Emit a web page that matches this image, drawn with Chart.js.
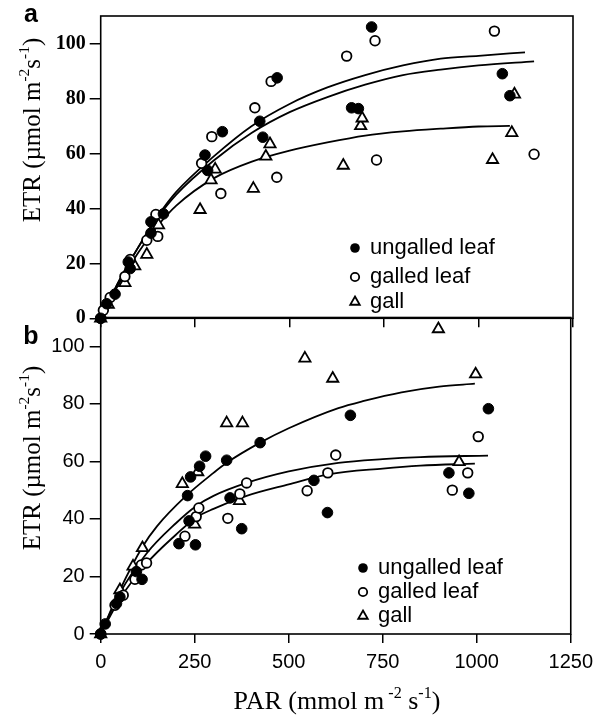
<!DOCTYPE html>
<html>
<head>
<meta charset="utf-8">
<script src="https://cdn.jsdelivr.net/npm/chart.js@4"></script>
<style>
  html, body { margin: 0; padding: 0; background: #fff; }
  #wrap { position: relative; width: 600px; height: 718px; }
  canvas { position: absolute; left: 0; }
  #chartA { top: 0; }
  #chartB { top: 300px; }
</style>
</head>
<body>
<div id="wrap">
  <canvas id="chartA" width="600" height="340"></canvas>
  <canvas id="chartB" width="600" height="418"></canvas>
</div>
<script>
// tick values
let parTicks = [0, 250, 500, 750, 1000, 1250];
let etrTicks = [0, 20, 40, 60, 80, 100];
let seriesNames = ["ungalled leaf", "galled leaf", "gall"];

// panel a - measured points (PAR, ETR)
let aUngalledPar = [0, 16, 38, 73, 78, 133, 133, 166, 276, 283, 322, 421, 429, 467, 664, 682, 717, 1063, 1083];
let aUngalledEtr = [0, 5.3, 8.8, 20.5, 18.1, 35.1, 31, 38, 59.4, 53.8, 67.9, 71.7, 65.9, 87.5, 76.6, 76.3, 106, 89, 81];
let aGalledPar = [0, 7, 25, 64, 78, 122, 146, 151, 267, 294, 318, 408, 451, 466, 651, 726, 730, 1042, 1147];
let aGalledEtr = [0, 2.9, 7.6, 15.2, 21.4, 28.4, 37.8, 29.8, 56.4, 66.1, 45.4, 76.6, 86.2, 51.3, 95.4, 101, 57.6, 104.5, 59.7];
let aGallPar = [0, 20, 64, 90, 122, 153, 263, 292, 303, 404, 437, 448, 642, 688, 692, 1037, 1088, 1095];
let aGallEtr = [0, 5, 12.9, 19, 23.2, 33.9, 39.5, 50.3, 54.2, 47.2, 58.9, 63.4, 55.6, 70, 72.8, 57.7, 67.5, 81.5];

// panel a - fitted curves
let aFit1Par = [0, 50, 100, 150, 200, 300, 400, 500, 600, 700, 800, 900, 1000, 1123];
let aFit1Etr = [0, 14, 26, 37, 46, 59, 70, 78, 84, 88.5, 92, 94.5, 95.5, 96.8];
let aFit2Par = [0, 50, 100, 150, 200, 300, 400, 500, 600, 700, 800, 900, 1000, 1147];
let aFit2Etr = [0, 14, 26, 36.5, 45, 57.5, 67.5, 75, 80.5, 85, 88.5, 90.5, 92, 93.5];
let aFit3Par = [0, 50, 100, 150, 200, 300, 400, 500, 600, 700, 800, 900, 1000, 1083];
let aFit3Etr = [0, 13, 24, 33.5, 41, 51, 57, 61, 64, 66.5, 68, 69, 69.8, 70];

// panel b - measured points
let bUngalledPar = [0, 12, 42, 51, 95, 110, 208, 231, 235, 239, 252, 263, 279, 335, 344, 375, 424, 567, 603, 664, 926, 979, 1031];
let bUngalledEtr = [0, 3.5, 10.6, 12.9, 21.7, 19, 31.4, 48.1, 39.3, 54.6, 31, 58.3, 61.8, 60.4, 47.3, 36.6, 66.5, 53.4, 42.2, 76, 56, 48.9, 78.3];
let bGalledPar = [0, 38, 60, 91, 108, 122, 224, 254, 261, 338, 370, 388, 549, 604, 625, 935, 976, 1004];
let bGalledEtr = [0, 10, 13.5, 19, 24, 24.7, 34, 40.8, 43.8, 40.2, 48.7, 52.5, 49.8, 56, 62.2, 50, 56, 68.6];
let bGallPar = [0, 51, 86, 111, 217, 250, 258, 335, 369, 377, 543, 617, 898, 953, 997];
let bGallEtr = [0, 15.3, 23.5, 29.9, 52.2, 38.1, 56.3, 73.3, 46.3, 73.3, 95.8, 88.8, 106, 59.8, 90.3];

// panel b - fitted curves
let bFit1Par = [0, 50, 112, 150, 227, 300, 335, 424, 500, 632, 700, 800, 900, 995];
let bFit1Etr = [0, 15, 30.5, 37.5, 48, 56, 59.5, 66.5, 71.5, 78.5, 81, 84, 86, 87];
let bFit2Par = [0, 50, 122, 200, 254, 300, 388, 500, 632, 750, 850, 1030];
let bFit2Etr = [0, 14, 28, 38.5, 44.5, 48, 52.5, 56.5, 59.5, 60.8, 61.5, 62];
let bFit3Par = [0, 50, 122, 200, 254, 300, 388, 500, 606, 750, 850, 995];
let bFit3Etr = [0, 12, 24.5, 34.5, 40.5, 43.5, 48, 52, 55.5, 57.5, 58.5, 59.2];

// zip two arrays into {x, y} points
function toPoints(xs, ys) {
  return xs.map(function (x, i) { return { x: x, y: ys[i] }; });
}

let sans = "'Liberation Sans', Arial, sans-serif";
let serif = "'Liberation Serif', 'Times New Roman', serif";

function pointSet(label, xs, ys, kind) {
  let filled = kind === "filled";
  return {
    label: label,
    data: toPoints(xs, ys),
    showLine: false,
    pointStyle: kind === "tri" ? "triangle" : "circle",
    pointRadius: kind === "tri" ? 6.5 : (filled ? 5.3 : 4.8),
    pointBackgroundColor: filled ? "#000" : "#fff",
    pointBorderColor: "#000",
    pointBorderWidth: filled ? 1 : 1.8,
    clip: false,
    order: 1,
  };
}

function curveSet(label, xs, ys) {
  return {
    label: label,
    data: toPoints(xs, ys),
    borderColor: "#000",
    borderWidth: 1.8,
    pointRadius: 0,
    fill: false,
    cubicInterpolationMode: "monotone",
    order: 2,
  };
}

// draw text with superscripts, centered on (0,0) of the current transform
function richText(ctx, parts, size, family) {
  let total = 0;
  parts.forEach(function (p) {
    ctx.font = (p.sup ? size * 0.62 : size) + "px " + family;
    p.w = ctx.measureText(p.t).width;
    total += p.w;
  });
  let x = -total / 2;
  ctx.textAlign = "left";
  ctx.textBaseline = "alphabetic";
  parts.forEach(function (p) {
    ctx.font = (p.sup ? size * 0.62 : size) + "px " + family;
    ctx.fillText(p.t, x, p.sup ? size * 0.35 - size * 0.42 : size * 0.35);
    x += p.w;
  });
}

function drawMarker(ctx, kind, x, y) {
  ctx.save();
  ctx.strokeStyle = "#000";
  ctx.lineWidth = 1.8;
  ctx.beginPath();
  if (kind === "tri") {
    let r = 5.5;
    ctx.moveTo(x, y - r);
    ctx.lineTo(x + r * 0.866, y + r * 0.5);
    ctx.lineTo(x - r * 0.866, y + r * 0.5);
    ctx.closePath();
    ctx.fillStyle = "#fff";
    ctx.fill();
    ctx.stroke();
  } else {
    ctx.arc(x, y, kind === "filled" ? 4.8 : 4.2, 0, Math.PI * 2);
    ctx.fillStyle = kind === "filled" ? "#000" : "#fff";
    ctx.fill();
    if (kind !== "filled") ctx.stroke();
  }
  ctx.restore();
}

let etrTitle = [
  { t: "ETR (\u00b5mol m" }, { t: "-2", sup: true }, { t: "s" }, { t: "-1", sup: true }, { t: ")" },
];
let parTitle = [
  { t: "PAR (mmol m" }, { t: " -2", sup: true }, { t: " s" }, { t: "-1", sup: true }, { t: ")" },
];

// frame, panel letter, y title and legend for each panel
function panelPlugin(letter, letterY, titleY, legendX, legendRows, withXTitle) {
  return {
    id: "panel" + letter,
    beforeDatasetsDraw: function (chart) {
      let ctx = chart.ctx, a = chart.chartArea;
      ctx.save();
      ctx.strokeStyle = "#000";
      ctx.lineWidth = 1.6;
      ctx.strokeRect(a.left, a.top, a.right - a.left, a.bottom - a.top);
      ctx.restore();
    },
    afterDraw: function (chart) {
      let ctx = chart.ctx;
      ctx.save();
      ctx.fillStyle = "#000";
      ctx.font = "bold 25px " + sans;
      ctx.textAlign = "center";
      ctx.textBaseline = "middle";
      ctx.fillText(letter, 31, letterY);

      ctx.save();
      ctx.translate(31, titleY);
      ctx.rotate(-Math.PI / 2);
      richText(ctx, etrTitle, 25, serif);
      ctx.restore();

      if (withXTitle) {
        ctx.save();
        ctx.translate(337, 400);
        richText(ctx, parTitle, 26, serif);
        ctx.restore();
      }

      let kinds = ["filled", "open", "tri"];
      ctx.font = "22px " + sans;
      ctx.textAlign = "left";
      ctx.textBaseline = "middle";
      seriesNames.forEach(function (name, i) {
        drawMarker(ctx, kinds[i], legendX, legendRows[i]);
        ctx.fillStyle = "#000";
        ctx.fillText(name, legendX + 15, legendRows[i]);
      });
      ctx.restore();
    },
  };
}

function makeOptions(top, xHeight, showXLabels, yFont, yPad) {
  return {
    responsive: false,
    animation: false,
    layout: { padding: { top: top, right: 27, left: 0, bottom: 0 } },
    plugins: { legend: { display: false }, tooltip: { enabled: false } },
    scales: {
      x: {
        type: "linear",
        min: 0,
        max: 1250,
        afterBuildTicks: function (s) { s.ticks = parTicks.map(function (v) { return { value: v }; }); },
        afterFit: function (s) { s.height = xHeight; },
        border: { display: false },
        grid: { drawOnChartArea: false, drawTicks: true, tickLength: 9, color: "#000", lineWidth: 1.5 },
        ticks: {
          display: showXLabels,
          autoSkip: false,
          maxRotation: 0,
          padding: 7,
          color: "#000",
          font: { family: sans, size: 20 },
          callback: function (v) { return String(v); },
        },
      },
      y: {
        min: 0,
        max: 110,
        afterBuildTicks: function (s) { s.ticks = etrTicks.map(function (v) { return { value: v }; }); },
        afterFit: function (s) { s.width = 100.7; },
        border: { display: false },
        grid: { drawOnChartArea: false, drawTicks: true, tickLength: 11, color: "#000", lineWidth: 1.5 },
        ticks: {
          autoSkip: false,
          padding: yPad,
          color: "#000",
          font: yFont,
          callback: function (v) { return String(v); },
        },
      },
    },
  };
}

new Chart(document.getElementById("chartA").getContext("2d"), {
  type: "line",
  data: {
    datasets: [
      pointSet(seriesNames[0], aUngalledPar, aUngalledEtr, "filled"),
      pointSet(seriesNames[1], aGalledPar, aGalledEtr, "open"),
      pointSet(seriesNames[2], aGallPar, aGallEtr, "tri"),
      curveSet("fit 1", aFit1Par, aFit1Etr),
      curveSet("fit 2", aFit2Par, aFit2Etr),
      curveSet("fit 3", aFit3Par, aFit3Etr),
    ],
  },
  options: makeOptions(5.5, 21.7, false, { family: serif, size: 20, weight: "bold" }, 4),
  plugins: [panelPlugin("a", 15, 130, 355, [248, 277, 302], false)],
});

new Chart(document.getElementById("chartB").getContext("2d"), {
  type: "line",
  data: {
    datasets: [
      pointSet(seriesNames[0], bUngalledPar, bUngalledEtr, "filled"),
      pointSet(seriesNames[1], bGalledPar, bGalledEtr, "open"),
      pointSet(seriesNames[2], bGallPar, bGallEtr, "tri"),
      curveSet("fit 1", bFit1Par, bFit1Etr),
      curveSet("fit 2", bFit2Par, bFit2Etr),
      curveSet("fit 3", bFit3Par, bFit3Etr),
    ],
  },
  options: makeOptions(17.5, 84, true, { family: sans, size: 20 }, 5),
  plugins: [panelPlugin("b", 37, 158, 363, [268, 292, 316], true)],
});
</script>
</body>
</html>
